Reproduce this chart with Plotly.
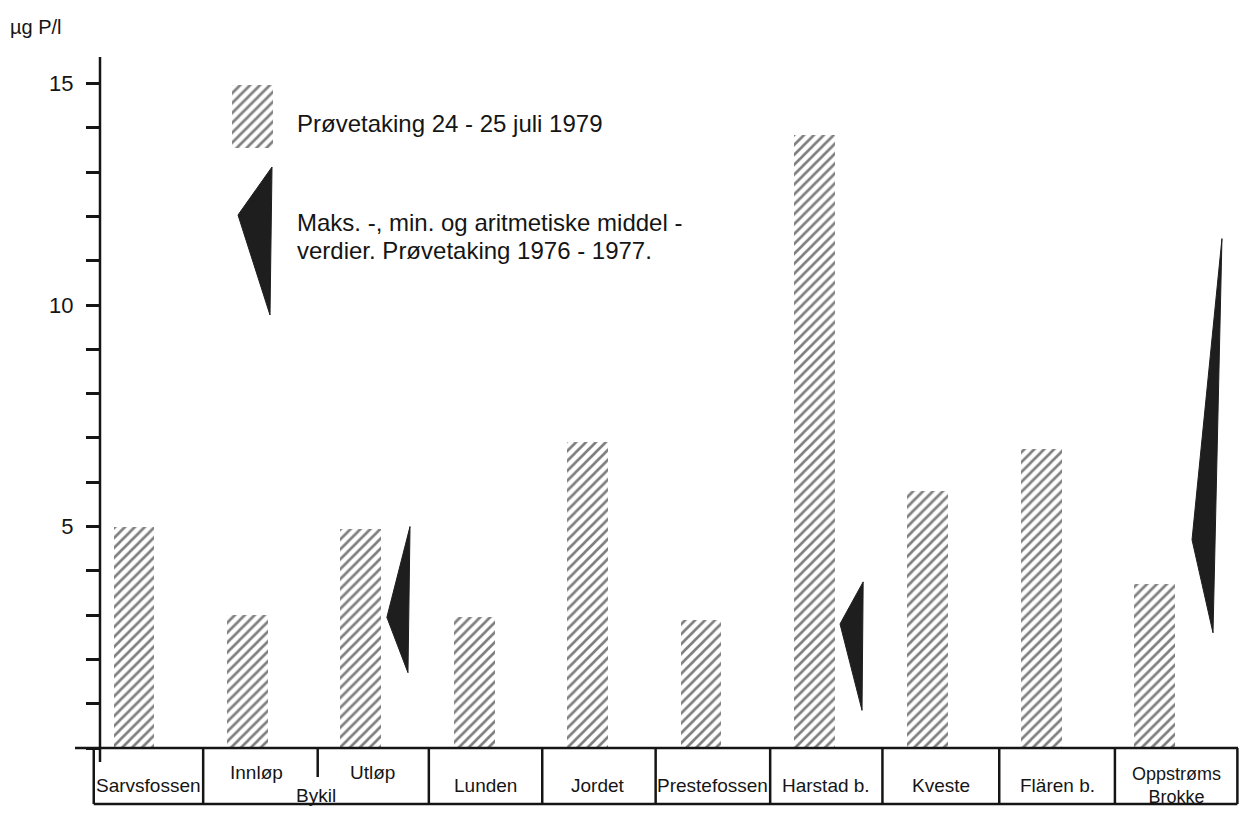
import plotly.graph_objects as go

# ---------------- data ----------------
categories = ["Sarvsfossen", "Innløp", "Utløp", "Lunden", "Jordet",
              "Prestefossen", "Harstad b.", "Kveste", "Flären b.", "Oppstrøms Brokke"]
values_1979 = [5.0, 3.0, 4.95, 2.95, 6.9, 2.9, 13.85, 5.8, 6.75, 3.7]

wedge_cats = ["Utløp", "Harstad b.", "Oppstrøms Brokke"]
wedge_max = [5.0, 3.75, 11.5]
wedge_mean = [2.95, 2.8, 4.7]
wedge_min = [1.7, 0.85, 2.6]

y_ticks = list(range(0, 16))
y_ticklabels = ["" if (v % 5 or v == 0) else str(v) for v in y_ticks]

legend_bar_text = "Prøvetaking 24 - 25 juli 1979"
legend_wedge_text = ["Maks. -, min. og aritmetiske middel -",
                     "verdier. Prøvetaking 1976 - 1977."]
unit_label = "µg P/l"

# ---------------- layout constants ----------------
W, H = 1240, 817
L, R, T, B = 100, 0, 57, 69
PW, PH = W - L - R, H - T - B
X0PX, DX = 134.0, 113.4          # pixel of category 0, pixel step per category
YMAX = 15.6
Y0PX = H - B                      # pixel of y = 0
PPU = PH / YMAX

def px_x(px):   # pixel -> data x
    return (px - X0PX) / DX

def px_y(py):   # pixel -> data y
    return (Y0PX - py) / PPU

def paper_x_from_data(x):
    return (X0PX + x * DX - L) / PW

def paper_y_px(py):
    return (Y0PX - py) / PH

FONT = "Liberation Sans"
INK = "#151515"
WEDGE = "#1e1e1e"

xs = list(range(len(categories)))
idx = {c: i for i, c in enumerate(categories)}

fig = go.Figure()

pattern = dict(shape="/", fgcolor="#000000", bgcolor="white", size=7, solidity=0.38)

fig.add_trace(go.Bar(
    x=xs, y=values_1979, width=0.36,
    marker=dict(color="white", line=dict(width=0), pattern=pattern),
    showlegend=False, hoverinfo="skip"))

# wedges: (top-right, left point at mean, bottom-right)
wedge_offsets = {"Utløp": (0.434, 0.23, 0.416),
                 "Harstad b.": (0.43, 0.226, 0.42),
                 "Oppstrøms Brokke": (0.594, 0.33, 0.515)}
for c, mx, mn_, lo in zip(wedge_cats, wedge_max, wedge_mean, wedge_min):
    i = idx[c]
    ot, ol, ob = wedge_offsets[c]
    fig.add_trace(go.Scatter(
        x=[i + ot, i + ol, i + ob, i + ot], y=[mx, mn_, lo, mx],
        mode="lines", fill="toself", fillcolor=WEDGE,
        line=dict(color=WEDGE, width=1), showlegend=False, hoverinfo="skip"))

# legend keys
fig.add_trace(go.Bar(
    x=[px_x(252.5)], y=[px_y(85) - px_y(148)], base=[px_y(148)], width=41 / DX,
    marker=dict(color="white", line=dict(width=0), pattern=pattern),
    showlegend=False, hoverinfo="skip"))
fig.add_trace(go.Scatter(
    x=[px_x(272), px_x(238), px_x(270), px_x(272)],
    y=[px_y(167), px_y(215), px_y(315), px_y(167)],
    mode="lines", fill="toself", fillcolor=WEDGE,
    line=dict(color=WEDGE, width=1), showlegend=False, hoverinfo="skip"))

shapes = []
lw = 2.5
# y-axis line
shapes.append(dict(type="line", xref="paper", yref="paper", x0=0, x1=0,
                   y0=paper_y_px(762), y1=1, line=dict(color=INK, width=lw)))
# x-axis line
shapes.append(dict(type="line", xref="paper", yref="paper",
                   x0=(75 - L) / PW, x1=(1238 - L) / PW, y0=0, y1=0,
                   line=dict(color=INK, width=lw)))
# category box bottom line
dividers = [-0.355, 0.61, 2.6, 3.6, 4.6, 5.61, 6.6, 7.63, 8.65, 9.73]
box_bottom = paper_y_px(804)
shapes.append(dict(type="line", xref="paper", yref="paper",
                   x0=paper_x_from_data(dividers[0]), x1=paper_x_from_data(dividers[-1]),
                   y0=box_bottom, y1=box_bottom, line=dict(color=INK, width=lw)))
for d in dividers:
    px = paper_x_from_data(d)
    shapes.append(dict(type="line", xref="paper", yref="paper", x0=px, x1=px,
                       y0=0, y1=box_bottom, line=dict(color=INK, width=lw)))
# inner Bykil divider
pin = paper_x_from_data(1.62)
shapes.append(dict(type="line", xref="paper", yref="paper", x0=pin, x1=pin,
                   y0=0, y1=paper_y_px(777), line=dict(color=INK, width=lw)))

annotations = []
def lab(text, px, py, size=19):
    annotations.append(dict(text=text, xref="paper", yref="paper",
                            x=(px - L) / PW, y=paper_y_px(py), showarrow=False,
                            xanchor="center", yanchor="middle",
                            font=dict(family=FONT, size=size, color=INK)))

lab(categories[0], 148, 785)
lab(categories[1], 256, 772)
lab(categories[2], 372, 772)
lab("Bykil", 316, 795)
lab(categories[3], 485, 785)
lab(categories[4], 598, 785)
lab(categories[5], 712, 785)
lab(categories[6], 826, 785)
lab(categories[7], 941, 785)
lab(categories[8], 1057, 785)
lab(categories[9].replace(" ", "<br>"), 1176, 786, size=18)

def ltext(text, px, py, size=24):
    annotations.append(dict(text=text, xref="paper", yref="paper",
                            x=(px - L) / PW, y=paper_y_px(py), showarrow=False,
                            xanchor="left", yanchor="middle",
                            font=dict(family=FONT, size=size, color=INK)))

ltext(legend_bar_text, 295, 124)
ltext(legend_wedge_text[0], 295, 222)
ltext(legend_wedge_text[1], 295, 250)
ltext(unit_label, 8, 27, size=20)

fig.update_layout(
    width=W, height=H,
    margin=dict(l=L, r=R, t=T, b=B, pad=0),
    paper_bgcolor="white", plot_bgcolor="white",
    bargap=0, barmode="overlay",
    xaxis=dict(range=[px_x(L), px_x(W - R)], visible=False, fixedrange=True),
    yaxis=dict(range=[0, YMAX], tickmode="array", tickvals=y_ticks, ticktext=y_ticklabels,
               ticks="outside", ticklen=13, tickwidth=2.5, tickcolor=INK,
               ticklabelstandoff=8, fixedrange=True,
               showline=False, showgrid=False, zeroline=False,
               tickfont=dict(family=FONT, size=22, color=INK)),
    shapes=shapes, annotations=annotations,
    showlegend=False,
)

fig.write_html("out.html", config={"displayModeBar": False},
               post_script="document.body.style.margin='0';document.body.style.padding='0';")
